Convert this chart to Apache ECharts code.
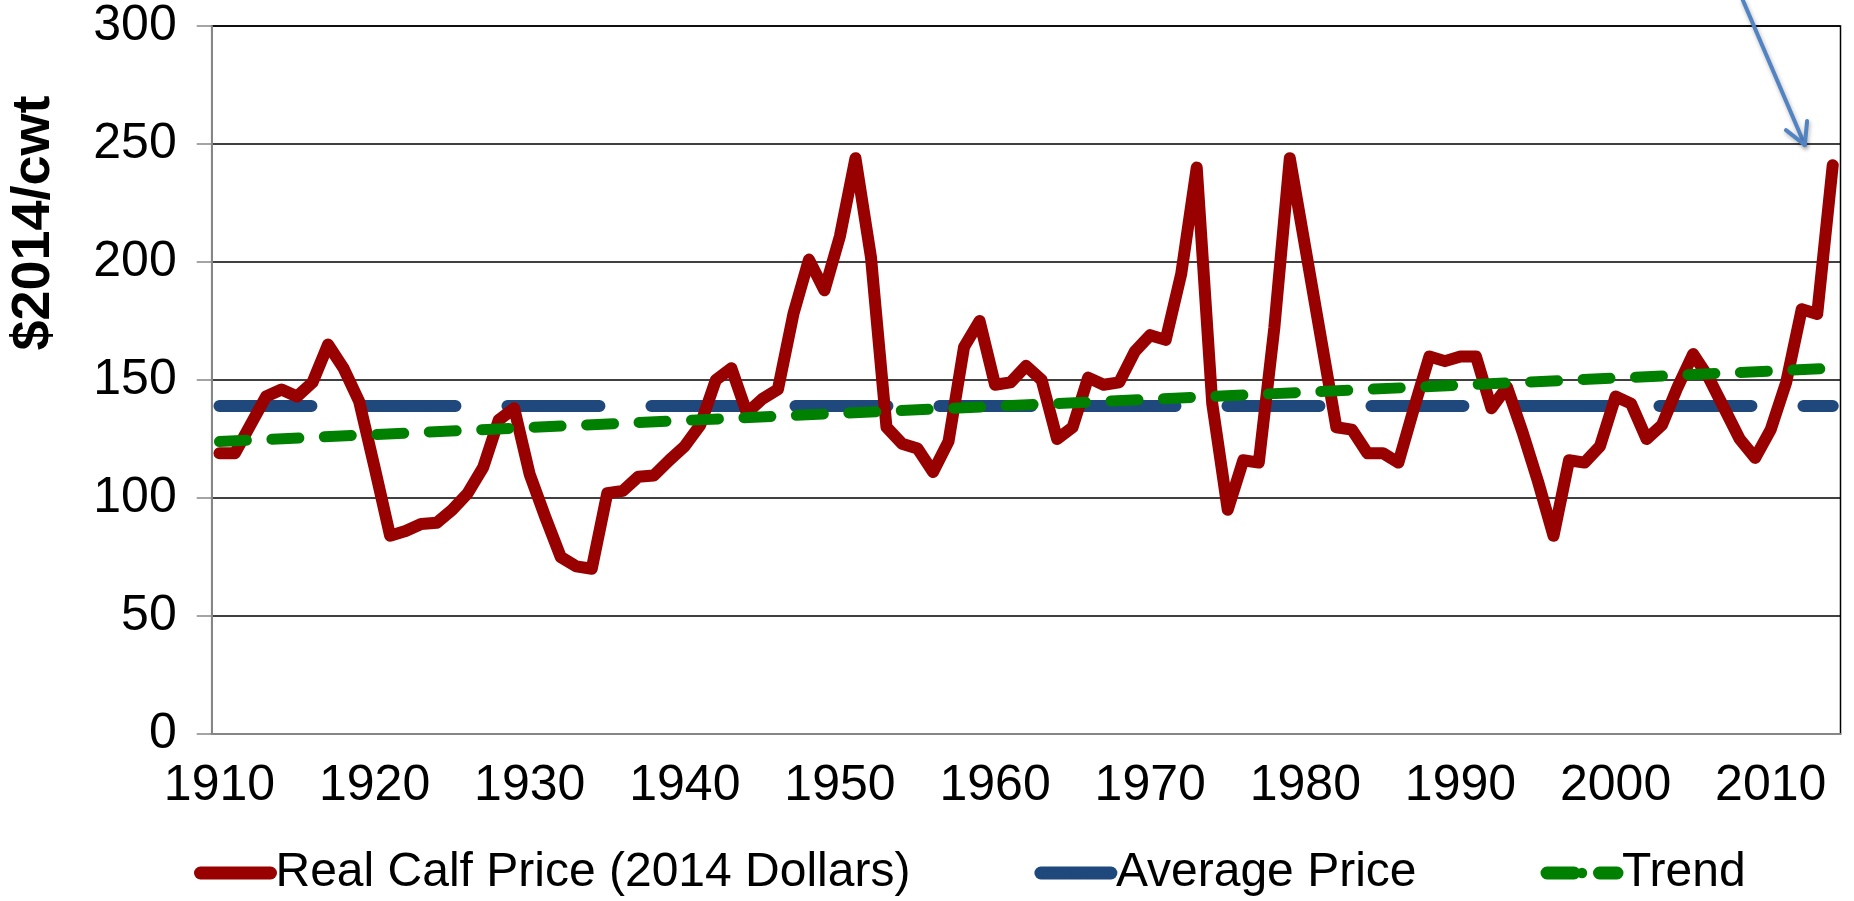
<!DOCTYPE html>
<html>
<head>
<meta charset="utf-8">
<script src="https://cdn.jsdelivr.net/npm/echarts@6/dist/echarts.min.js"></script>
<style>
  html, body { margin: 0; padding: 0; background: #fff; }
  #chart { width: 1854px; height: 901px; }
</style>
</head>
<body>
<div id="chart"></div>
<script>
  // anos 1910..2014
  const years = [];
  for (let y = 1910; y <= 2014; y++) years.push(String(y));

  // preco real do bezerro ($2014/cwt)
  const realPrice = [
    119, 119, 131, 143, 146, 143, 149, 165, 155, 141,
    113, 84, 86, 89, 89.5, 95, 102, 113, 133, 138,
    110, 92, 75, 71, 70, 102, 103, 109, 109.5, 116,
    122, 131, 150, 155, 136, 142, 146, 178, 201, 188,
    211, 244, 202, 130, 123, 121, 111, 124, 164, 175,
    148, 149, 156, 150, 125, 130, 151, 148, 149, 162,
    169, 167, 195, 240, 140, 95, 116, 115, 172, 244,
    206, 168, 130, 129, 119, 119, 115, 138, 160, 158,
    160, 160, 138, 147, 128, 107, 84, 116, 115, 122,
    143, 140, 125, 131, 147, 161, 151, 138, 125, 117,
    129, 149, 180, 178, 241
  ];

  // media e tendencia: so os extremos (1910 e 2014)
  const averageEnds = [139, 139];
  const trendEnds = [123.9, 155];

  const yTicks = { min: 0, max: 300, interval: 50 };
  const seriesNames = ['Real Calf Price (2014 Dollars)', 'Average Price', 'Trend'];

  const ends = (pair) => years.map((_, i) => i === 0 ? pair[0] : (i === years.length - 1 ? pair[1] : null));

  const FONT = '"Liberation Sans", Arial, sans-serif';
  const chart = echarts.init(document.getElementById('chart'));

  const option = {
    animation: false,
    backgroundColor: '#fff',
    textStyle: { fontFamily: FONT },
    grid: {
      left: 211.7, right: 13.5, top: 26, bottom: 167,
      show: true, borderColor: '#000', borderWidth: 1.5
    },
    legend: {
      data: seriesNames,
      left: 194, top: 849, padding: 0,
      itemWidth: 70, itemHeight: 13, itemGap: 124,
      textStyle: { fontSize: 48, color: '#000', fontFamily: FONT },
      lineStyle: { width: 13 }
    },
    xAxis: {
      type: 'category',
      data: years,
      boundaryGap: true,
      axisLine: { lineStyle: { color: '#868686', width: 2 } },
      axisTick: { interval: 0, length: 15, lineStyle: { color: '#868686', width: 1.5 } },
      axisLabel: { interval: 9, fontSize: 50, color: '#000', margin: 27, fontFamily: FONT },
      splitLine: { show: false }
    },
    yAxis: {
      type: 'value',
      min: yTicks.min, max: yTicks.max, interval: yTicks.interval,
      axisLine: { show: true, lineStyle: { color: '#868686', width: 2 } },
      axisTick: { show: true, length: 15, lineStyle: { color: '#868686', width: 1.5 } },
      axisLabel: { fontSize: 50, color: '#000', margin: 35, fontFamily: FONT },
      splitLine: { lineStyle: { color: '#000', width: 1.5 } }
    },
    series: [
      {
        name: seriesNames[0],
        type: 'line',
        data: realPrice,
        symbol: 'none',
        z: 4,
        lineStyle: { color: '#990000', width: 12, cap: 'round', join: 'round' },
        itemStyle: { color: '#990000' }
      },
      {
        name: seriesNames[1],
        type: 'line',
        data: ends(averageEnds),
        connectNulls: true,
        symbol: 'none',
        z: 3,
        lineStyle: { color: '#1F497D', width: 12, type: [92, 52], cap: 'round' },
        itemStyle: { color: '#1F497D' }
      },
      {
        name: seriesNames[2],
        type: 'line',
        data: ends(trendEnds),
        connectNulls: true,
        symbol: 'none',
        z: 5,
        lineStyle: { color: '#008000', width: 11, type: [27, 25.5], cap: 'round' },
        itemStyle: { color: '#008000' }
      }
    ]
  };

  chart.setOption(option);

  // seta da anotacao: posicao em unidades do grafico (indice do ano, valor)
  const arrowTail = [98.2, 311];
  const arrowTip = [102.2, 249.6];

  const catPx = (x) => {
    const i = Math.floor(x);
    const a = chart.convertToPixel({ xAxisIndex: 0 }, years[i]);
    const b = chart.convertToPixel({ xAxisIndex: 0 }, years[i + 1]);
    return a + (b - a) * (x - i);
  };
  const valPx = (v) => chart.convertToPixel({ yAxisIndex: 0 }, v);

  const t0 = [catPx(arrowTail[0]), valPx(arrowTail[1])];
  const t1 = [catPx(arrowTip[0]), valPx(arrowTip[1])];
  const ang = Math.atan2(t1[1] - t0[1], t1[0] - t0[0]);
  const head = 24, spread = 0.5;
  const h1 = [t1[0] - head * Math.cos(ang - spread), t1[1] - head * Math.sin(ang - spread)];
  const h2 = [t1[0] - head * Math.cos(ang + spread), t1[1] - head * Math.sin(ang + spread)];

  const arrowStyle = {
    stroke: '#5283C2', lineWidth: 4, lineCap: 'round', lineJoin: 'round',
    shadowColor: 'rgba(0,0,0,0.3)', shadowBlur: 4, shadowOffsetX: 1, shadowOffsetY: 2
  };

  chart.setOption({
    graphic: [
      {
        type: 'text',
        x: 34, y: 223,
        rotation: Math.PI / 2,
        style: {
          text: '$2014/cwt',
          fontFamily: FONT, fontWeight: 'bold', fontSize: 54,
          fill: '#000', align: 'center', verticalAlign: 'middle'
        }
      },
      { type: 'line', z: 10, shape: { x1: t0[0], y1: t0[1], x2: t1[0], y2: t1[1] }, style: arrowStyle },
      { type: 'polyline', z: 10, shape: { points: [h1, t1, h2] }, style: Object.assign({ fill: null }, arrowStyle) }
    ]
  });
</script>
</body>
</html>
